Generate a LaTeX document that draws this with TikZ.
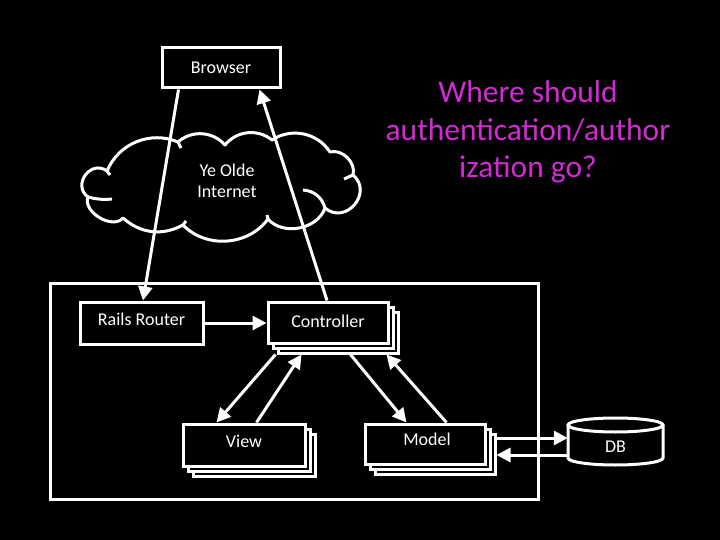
\documentclass[tikz,border=0pt]{standalone}
\usepackage{fontspec}
\setmainfont{Carlito}
\usetikzlibrary{arrows.meta,calc}
\definecolor{mag}{RGB}{214,40,214}
\begin{document}
\begin{tikzpicture}[x=1pt,y=-1pt,
  wl/.style={draw=white,line width=3pt},
  lbl/.style={text=white,font=\fontsize{18}{20.5}\selectfont,align=center,inner sep=0pt},
  stackbox/.style={draw=white,line width=3pt,fill=black,inner sep=0pt},
  arr/.style={draw=white,line width=3pt,-{Triangle[length=14pt,width=14pt]}},
]
\fill[black] (0,0) rectangle (720,540);
\useasboundingbox (0,0) rectangle (720,540);

% application frame
\node[draw=white,line width=3pt,minimum width=488pt,minimum height=216pt,inner sep=0pt] (app) at (294,391) {};

% cloud
\draw[wl,line join=round]
  (88,197) to[bend left=90,looseness=1.6] (107,171)
  to[bend left=45] (178,142)
  to[bend left=45] (225,145)
  to[bend left=45] (272,140)
  to[bend left=45] (330,152)
  to[bend left=60] (353,175)
  to[bend left=90,looseness=1.6] (325,208)
  to[bend left=60] (268,219)
  to[bend left=50] (183,225)
  to[bend left=35] (123,218)
  to[bend left=80] (88,197);
\draw[wl] (88,197) to[bend right=10] (112,199);
\draw[wl] (325,208) to[bend right=35] (303,190);
\draw[wl] (353,175) -- (344,179);
\draw[wl] (107,171) -- (110,175);
\draw[wl] (178,142) -- (181,148);
\draw[wl] (183,225) -- (186,221);
\draw[wl] (268,219) -- (267,215);
\node[lbl] (net) at (227,181) {Ye Olde\\Internet};

% browser
\node[stackbox,minimum width=118pt,minimum height=40pt,
  label={[lbl]center:Browser}] (browser) at (221,68) {};

% rails router
\node[stackbox,minimum width=123pt,minimum height=42pt,
  label={[lbl,yshift=3.5pt]center:Rails Router}] (router) at (141.5,323) {};

% controller
\node[stackbox,minimum width=120pt,minimum height=41pt] (ctrlB) at (338,332.5) {};
\node[stackbox,minimum width=120pt,minimum height=41pt] (ctrlM) at (333,327.5) {};
\node[stackbox,minimum width=120pt,minimum height=41pt,
  label={[lbl,yshift=1pt]center:Controller}] (ctrl) at (328,322.5) {};

% view
\node[stackbox,minimum width=122pt,minimum height=42pt] (viewB) at (254,455) {};
\node[stackbox,minimum width=122pt,minimum height=42pt] (viewM) at (249,450) {};
\node[stackbox,minimum width=122pt,minimum height=42pt,
  label={[lbl,yshift=4pt]center:View}] (view) at (244,445) {};

% model
\node[stackbox,minimum width=120pt,minimum height=40pt] (modelB) at (435,454) {};
\node[stackbox,minimum width=120pt,minimum height=40pt] (modelM) at (430,449) {};
\node[stackbox,minimum width=120pt,minimum height=40pt,
  label={[lbl,yshift=5pt,xshift=2pt]center:Model}] (model) at (425,444) {};

% database
\node[inner sep=0pt,minimum width=95pt,minimum height=47pt,
  label={[lbl,yshift=-5.5pt]center:DB}] (db) at (615.5,441.5) {};
\draw[wl] (615.5,425) ellipse [x radius=47.5,y radius=7];
\draw[wl] (568,425) -- (568,458) arc[start angle=180,end angle=0,x radius=47.5,y radius=7] -- (663,425);

% connectors
\draw[arr] ([xshift=18pt]browser.south west) -- ([xshift=1.5pt]router.north);
\draw[arr] ([xshift=-1pt]ctrl.north) -- ([xshift=-22pt]browser.south east);
\draw[arr] (router.east) -- (ctrl.west |- router.east);
\draw[arr] ([xshift=-1pt]ctrlB.south west) -- ([xshift=35pt]view.north west);
\draw[arr] ([xshift=75pt]view.north west) -- ([xshift=25pt]ctrlB.south west);
\draw[arr] ([xshift=74pt]ctrlB.south west) -- ([xshift=43pt]model.north west);
\draw[arr] ([xshift=83pt]model.north west) -- ([xshift=110pt]ctrlB.south west);
\draw[arr] ([yshift=16pt]modelB.east) -- ([yshift=3.5pt]db.west);
\draw[arr] ([yshift=-13.5pt]db.west) -- ([yshift=-1pt]modelB.east);

% question
\node[text=mag,font=\fontsize{31.5}{37.5}\selectfont,align=center,inner sep=0pt] (q) at (528,132)
  {Where should\\authentication/author\\ization go?};
\end{tikzpicture}
\end{document}
